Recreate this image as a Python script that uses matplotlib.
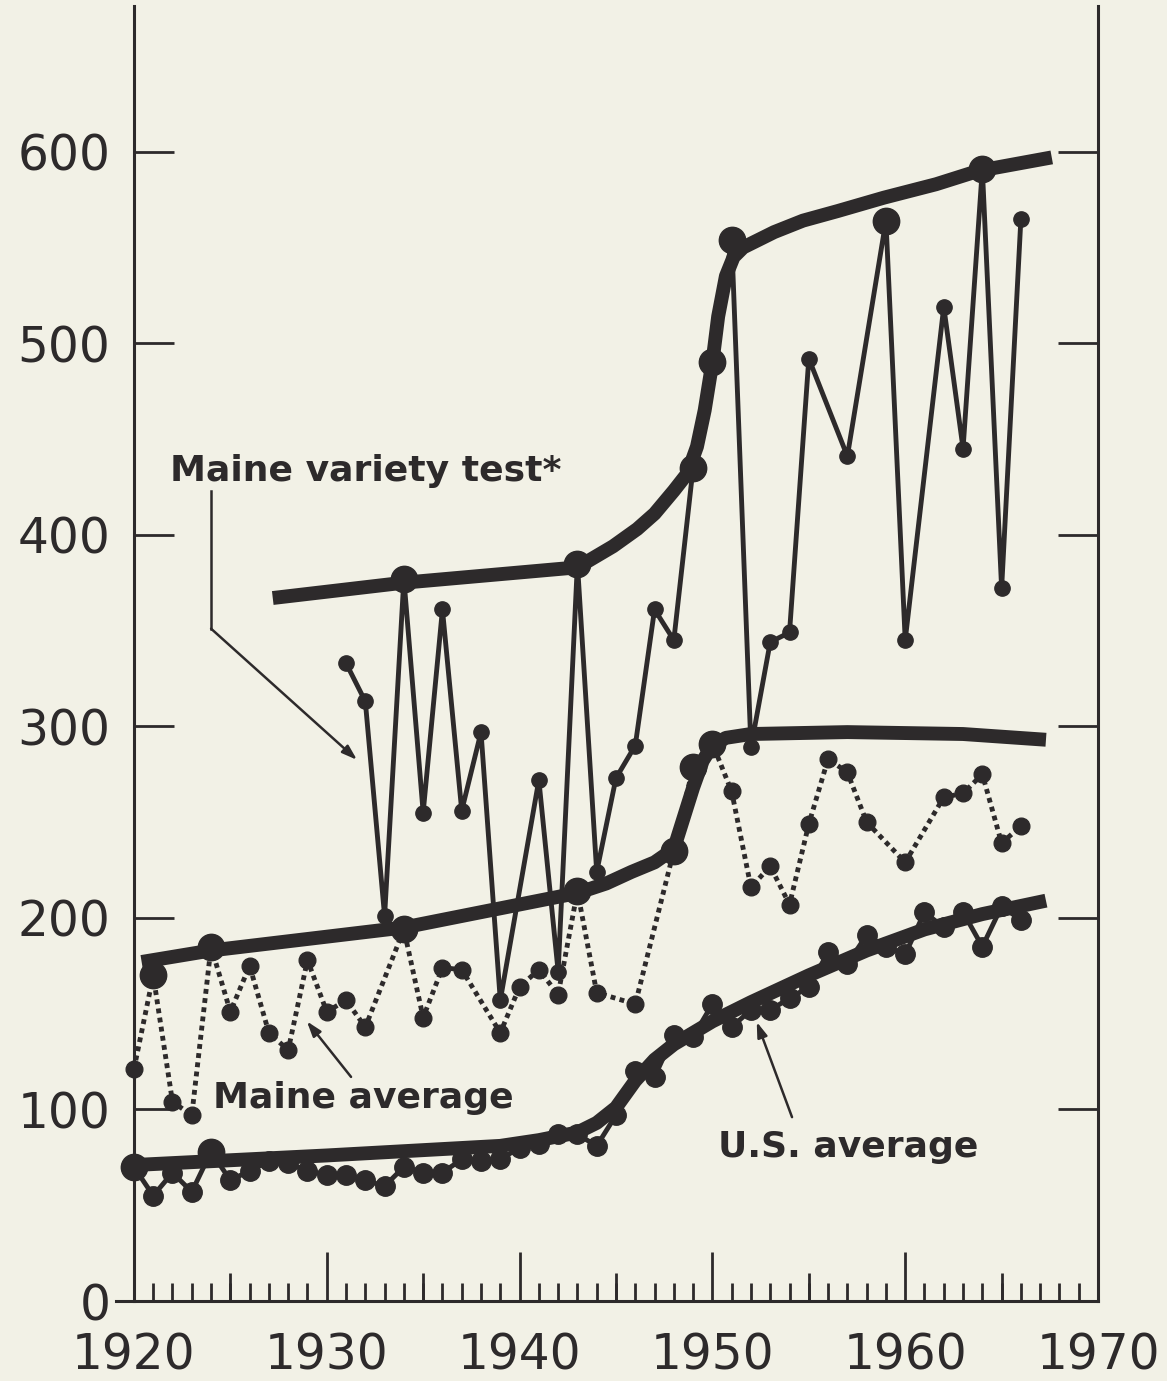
import matplotlib.pyplot as plt
from matplotlib.ticker import MultipleLocator

# Potato yields (cwt per acre)
variety_years = [1931, 1932, 1933, 1934, 1935, 1936, 1937, 1938, 1939, 1941, 1942,
                 1943, 1944, 1945, 1946, 1947, 1948, 1949, 1950, 1951, 1952, 1953,
                 1954, 1955, 1957, 1959, 1960, 1962, 1963, 1964, 1965, 1966]
variety_yield = [333, 313, 201, 377, 255, 361, 256, 297, 157, 272, 172,
                 385, 224, 273, 290, 361, 345, 435, 490, 554, 289, 344,
                 349, 492, 441, 564, 345, 519, 445, 591, 372, 565]
variety_big = [1934, 1943, 1949, 1950, 1951, 1959, 1964]

maine_years = [1920, 1921, 1922, 1923, 1924, 1925, 1926, 1927, 1928, 1929, 1930,
               1931, 1932, 1934, 1935, 1936, 1937, 1939, 1940, 1941, 1942, 1943,
               1944, 1946, 1948, 1949, 1950, 1951, 1952, 1953, 1954, 1955, 1956,
               1957, 1958, 1960, 1962, 1963, 1964, 1965, 1966]
maine_yield = [121, 170, 104, 97, 185, 151, 175, 140, 131, 178, 151,
               157, 143, 194, 148, 174, 173, 140, 164, 173, 160, 214,
               161, 155, 235, 279, 291, 266, 216, 227, 207, 249, 283,
               276, 250, 229, 263, 265, 275, 239, 248]
maine_big = [1921, 1924, 1934, 1943, 1948, 1949, 1950]

us_years = [1920, 1921, 1922, 1923, 1924, 1925, 1926, 1927, 1928, 1929, 1930,
            1931, 1932, 1933, 1934, 1935, 1936, 1937, 1938, 1939, 1940, 1941,
            1942, 1943, 1944, 1945, 1946, 1947, 1948, 1949, 1950, 1951, 1952,
            1953, 1954, 1955, 1956, 1957, 1958, 1959, 1960, 1961, 1962, 1963,
            1964, 1965, 1966]
us_yield = [70, 55, 67, 57, 78, 63, 68, 73, 72, 68, 66,
            66, 63, 60, 70, 67, 67, 74, 73, 74, 80, 82,
            87, 87, 81, 97, 120, 117, 139, 138, 155, 143, 152,
            152, 158, 164, 182, 176, 191, 185, 181, 203, 195, 203,
            185, 206, 199]
us_big = [1920, 1924]

# hand-drawn trend curves
variety_trend_x = [1927.2, 1934, 1943, 1944.85, 1946.1, 1947.0, 1948.0, 1948.7, 1949.2,
                   1949.6, 1950.0, 1950.3, 1950.7, 1951.1, 1951.6, 1952.2, 1953.2,
                   1954.7, 1956.5, 1958.9, 1961.6, 1963.8, 1967.6]
variety_trend_y = [367, 375, 383, 394, 403, 411, 423, 432, 446,
                   465, 490, 514, 535, 545, 550, 553, 558,
                   564, 569, 576, 583, 590, 597]
maine_trend_x = [1920.4, 1924, 1934, 1943, 1944.5, 1945.8, 1947, 1948, 1948.5,
                 1949, 1949.5, 1950, 1950.7, 1952, 1957, 1963, 1967.3]
maine_trend_y = [177, 183, 195, 213, 218, 224, 229, 236, 252,
                 268, 282, 290, 294, 296, 297, 296, 293]
us_trend_x = [1920, 1930, 1939, 1941, 1943, 1944, 1945, 1946, 1947, 1948, 1950,
              1952, 1955, 1958, 1961, 1964, 1967.3]
us_trend_y = [71, 76, 81, 84, 88, 93, 101, 115, 126, 134, 146,
              156, 170, 183, 194, 202, 209]

ink = '#2d2a2b'
paper = '#f2f1e6'
plt.rcParams['font.family'] = ['DejaVu Sans']

fig = plt.figure(figsize=(11.67, 13.81), dpi=100, facecolor=paper)
ax = fig.add_axes([0.0994, 0.0579, 0.8415, 0.9377])
ax.set_facecolor(paper)
ax.set_xlim(1919.07, 1970)
ax.set_ylim(0, 676)

# trend lines
for tx, ty in [(variety_trend_x, variety_trend_y), (maine_trend_x, maine_trend_y),
               (us_trend_x, us_trend_y)]:
    ax.plot(tx, ty, color=ink, lw=10, solid_capstyle='butt', solid_joinstyle='round', zorder=2)

# yearly series
ax.plot(variety_years, variety_yield, '-o', color=ink, lw=3.5, ms=11, zorder=3)
ax.plot(maine_years, maine_yield, color=ink, lw=3.5, ls=(0, (1, 0.9)),
        marker='o', ms=12, zorder=3)
ax.plot(us_years, us_yield, '-o', color=ink, lw=3.5, ms=14, zorder=3)

# big dots where a year sits on the trend
for yrs, vals, big in [(variety_years, variety_yield, variety_big),
                       (maine_years, maine_yield, maine_big),
                       (us_years, us_yield, us_big)]:
    bx = [y for y in yrs if y in big]
    by = [v for y, v in zip(yrs, vals) if y in big]
    ax.plot(bx, by, 'o', color=ink, ms=19, zorder=4)

# labels and leaders
lab = dict(fontsize=26, fontweight='bold', color=ink, va='baseline')
ax.text(1921.87, 428, 'Maine variety test*', **lab)
ax.text(1924.1, 101, 'Maine average', **lab)
ax.text(1950.29, 75, 'U.S. average', **lab)

arrow = dict(arrowstyle='-|>,head_length=0.9,head_width=0.3', color=ink, lw=1.8,
             shrinkA=0, shrinkB=0)
ax.plot([1924.0, 1924.0], [423, 351], color=ink, lw=1.8)
ax.annotate('', xy=(1931.57, 282.5), xytext=(1924.0, 351), arrowprops=arrow)
ax.annotate('', xy=(1928.97, 146), xytext=(1931.26, 117), arrowprops=arrow)
ax.annotate('', xy=(1952.3, 145.7), xytext=(1954.13, 96), arrowprops=arrow)

# axes frame
ax.spines['top'].set_visible(False)
ax.spines['left'].set_position(('data', 1920))
for s in ['left', 'right', 'bottom']:
    ax.spines[s].set_color(ink)
    ax.spines[s].set_linewidth(2.2)

ax.set_xticks([1920, 1930, 1940, 1950, 1960, 1970])
ax.xaxis.set_minor_locator(MultipleLocator(1))
ax.tick_params(axis='x', which='major', direction='in', length=35, width=2,
               pad=22, labelsize=35, colors=ink)
ax.tick_params(axis='x', which='minor', direction='in', length=13, width=2, colors=ink)
sec = ax.secondary_xaxis('bottom')
sec.set_xticks([1925, 1935, 1945, 1955, 1965])
sec.tick_params(direction='in', length=20, width=2, labelbottom=False, colors=ink)
sec.spines['bottom'].set_visible(False)

ax.set_yticks([0, 100, 200, 300, 400, 500, 600])
ax.tick_params(axis='y', direction='in', length=29, width=2, left=True, right=True,
               labelsize=35, pad=17, colors=ink)

fig.savefig('out.png', dpi=100, facecolor=paper)
